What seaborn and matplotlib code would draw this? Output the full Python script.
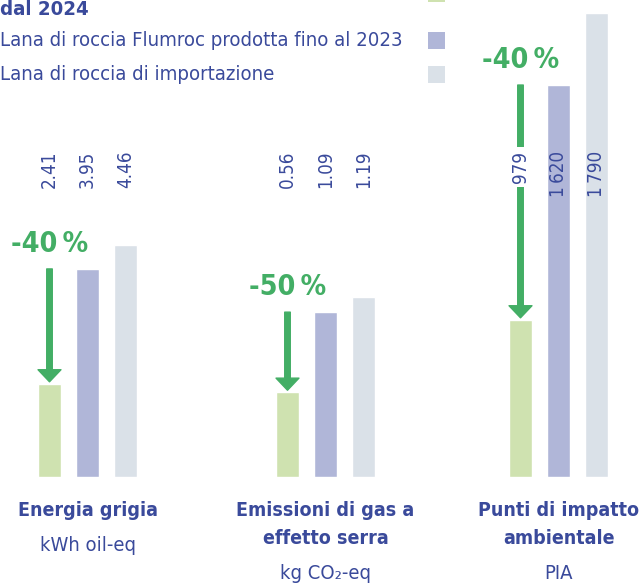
import seaborn as sns
import pandas as pd
import matplotlib.pyplot as plt
from matplotlib.patches import Rectangle
from matplotlib.transforms import blended_transform_factory

# Dati
categorie = ["Energia grigia", "Emissioni di gas a\neffetto serra", "Punti di impatto\nambientale"]
unita = ["kWh oil-eq", "kg CO₂-eq", "PIA"]
serie = ["Flumroc dal 2024", "Flumroc fino al 2023", "Importazione"]
legenda = ["Lana di roccia Flumroc prodotta\ndal 2024",
           "Lana di roccia Flumroc prodotta fino al 2023",
           "Lana di roccia di importazione"]
# altezze delle barre come disegnate
energia = [1.79, 4.0, 4.46]
emissioni = [0.56, 1.09, 1.19]
impatto = [606, 1512, 1790]
# etichette dei valori
etichette_energia = ["2.41", "3.95", "4.46"]
etichette_emissioni = ["0.56", "1.09", "1.19"]
etichette_impatto = ["979", "1\u2009620", "1\u2009790"]
riduzioni = ["-40\u2009%", "-50\u2009%", "-40\u2009%"]

#colori
paleta = ["#cfe2b0", "#b0b6d8", "#dae1e8"]
verde = "#43ae65"
blu = "#3a4a9b"

sns.set_theme(style="white")
plt.rcParams['font.family'] = ['Liberation Sans Narrow', 'DejaVu Sans']
plt.rcParams['font.stretch'] = 'condensed'

fig = plt.figure(figsize=(6.39, 5.85), dpi=100)
W, H = 639, 585

# posizione di ogni pannello (px da sinistra) e massimo dell'asse y
sinistre = [30.5, 268.5, 501.5]
ymax = [9.17, 3.154, 1840]
valori = [energia, emissioni, impatto]
etichette = [etichette_energia, etichette_emissioni, etichette_impatto]

for i in range(3):
    ax = fig.add_axes([sinistre[i] / W, 1 - 477 / H, 114 / W, 477 / H])
    df = pd.DataFrame({"serie": serie, "valore": valori[i]})
    sns.barplot(data=df, x="serie", y="valore", hue="serie", palette=paleta,
                width=0.605, legend=False, ax=ax, saturation=1)
    ax.set_xlim(-0.5, 2.5)
    ax.set_ylim(0, ymax[i])
    ax.axis("off")

    # etichette ruotate sopra le barre
    trans = blended_transform_factory(ax.transData, fig.transFigure)
    for j, testo in enumerate(etichette[i]):
        box = dict(facecolor="white", edgecolor="none", pad=3) if j == 0 else None
        ax.text(j, 1 - 151 / H, testo, transform=trans, rotation=90, ha="center", va="top",
                fontsize=13.5, color=blu, bbox=box, zorder=5)

    # freccia dalla barra del 2023 a quella nuova
    ax.annotate("", xy=(0, valori[i][0]), xytext=(0, valori[i][1]),
                arrowprops=dict(arrowstyle="simple,head_length=8.7,head_width=16.5,tail_width=4",
                                mutation_scale=1, color=verde, shrinkA=0, shrinkB=1.5),
                zorder=4)
    ax.annotate(riduzioni[i], xy=(0, valori[i][1]), xytext=(0, 12.5), textcoords="offset points",
                ha="center", va="baseline", fontsize=20.5, fontweight="bold", color=verde)

    # nome della categoria e unita
    titolo = ax.annotate(categorie[i], xy=(1, 0), xytext=(0, -17), textcoords="offset points",
                         ha="center", va="top", fontsize=14, fontweight="bold", color=blu,
                         linespacing=1.6, annotation_clip=False)
    ax.annotate(unita[i], xy=(0.5, 0), xycoords=titolo, xytext=(0, -12), textcoords="offset points",
                ha="center", va="top", fontsize=14.5, color=blu, annotation_clip=False)

# legenda (tagliata in alto)
fig.text(0.0, 1 - 19 / H, legenda[0], ha="left", va="bottom", fontsize=14.6,
         fontweight="bold", color=blu)
fig.text(0.0, 1 - 41 / H, legenda[1], ha="left", va="center", fontsize=14.6, color=blu)
fig.text(0.0, 1 - 75 / H, legenda[2], ha="left", va="center", fontsize=14.6, color=blu)
for k, y0 in enumerate([2, 49, 83]):
    fig.patches.append(Rectangle((428 / W, 1 - y0 / H), 17 / W, 17 / H, transform=fig.transFigure,
                                 facecolor=paleta[k], edgecolor="none"))

plt.savefig("out.png", dpi=100)
